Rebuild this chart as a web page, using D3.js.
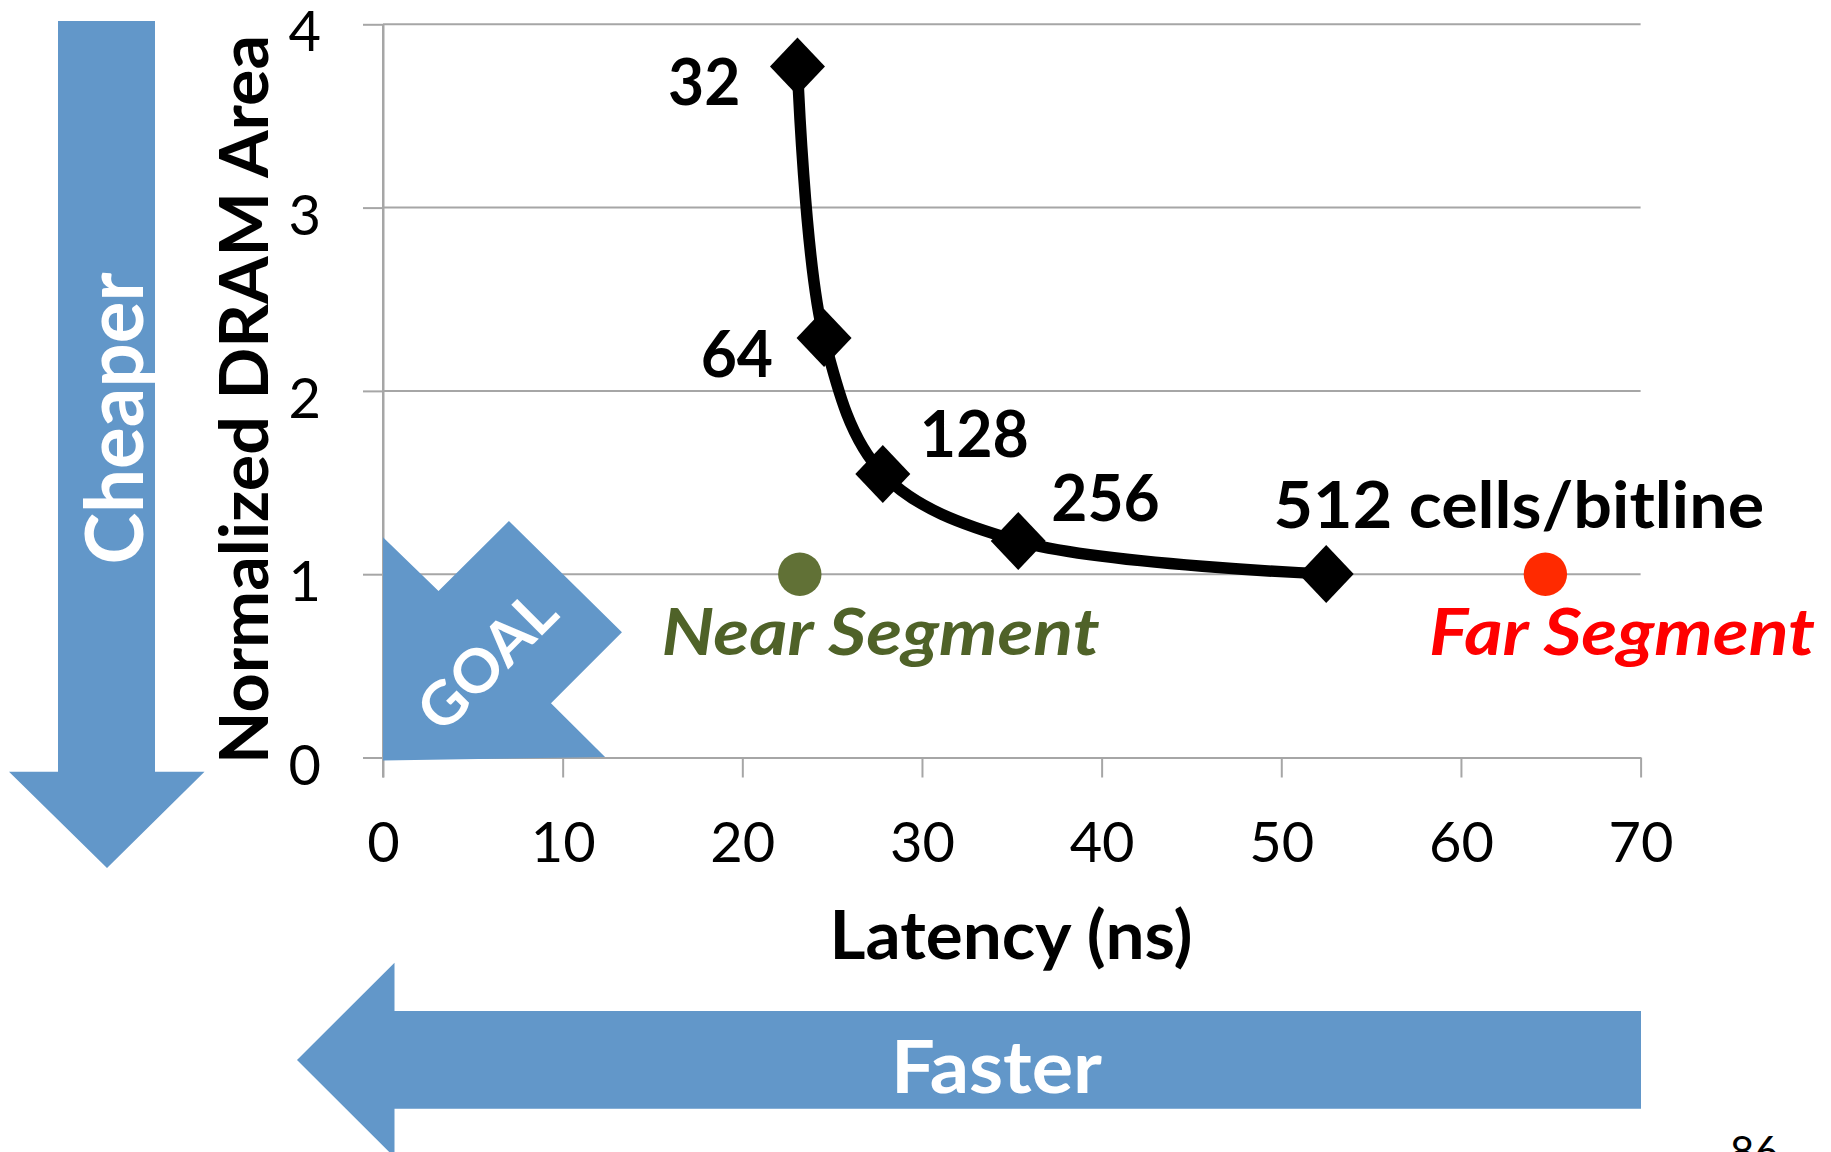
<!DOCTYPE html>
<html>
<head>
<meta charset="utf-8">
<script src="https://cdn.jsdelivr.net/npm/d3@7"></script>
<style>
  html, body { margin: 0; padding: 0; background: #ffffff; }
  svg { display: block; }
  text { font-family: Lato, "Open Sans", "DejaVu Sans", sans-serif; }
</style>
</head>
<body>
<svg id="chart" width="1831" height="1152"></svg>
<script>
// ---- data ----
const cellsPerBitline = ["32", "64", "128", "256", "512 cells/bitline"];
const latencyNs = [23.07, 24.55, 27.82, 35.36, 52.5];
const normalizedArea = [3.77, 2.289, 1.547, 1.181, 1.001];

const segmentNames = ["Near Segment", "Far Segment"];
const segmentLatency = [23.2, 64.7];
const segmentArea = [1.0, 1.0];

const xTickValues = [0, 10, 20, 30, 40, 50, 60, 70];
const yTickValues = [0, 1, 2, 3, 4];

const xTitle = "Latency (ns)";
const yTitle = "Normalized DRAM Area";

// ---- layout / style ----
const W = 1831, H = 1152;
const BLUE = "#6297c9";
const GRID = "#a6a6a6";

const svg = d3.select("#chart");
svg.append("rect").attr("width", W).attr("height", H).attr("fill", "#fff");

const x = d3.scaleLinear().domain([0, 70]).range([383, 1640.6]);
const y = d3.scaleLinear().domain([0, 4]).range([757.5, 24.3]);

// ---- "Cheaper" arrow (left, pointing down) ----
const cheaper = [[58, 21], [155, 21], [155, 771.7], [204.5, 771.7], [107, 868], [9, 771.7], [58, 771.7]];
svg.append("path").attr("d", "M" + cheaper.join("L") + "Z").attr("fill", BLUE);
svg.append("text")
  .attr("transform", "translate(143,418.5) rotate(-90)")
  .attr("text-anchor", "middle")
  .attr("font-weight", 700).attr("font-size", 80)
  .attr("textLength", 292).attr("lengthAdjust", "spacingAndGlyphs")
  .attr("fill", "#fff").text("Cheaper");

// ---- "Faster" arrow (bottom, pointing left) ----
const faster = [[1641, 1011], [1641, 1108.7], [394.5, 1108.7], [394.5, 1157.3], [297, 1060], [394.5, 962.7], [394.5, 1011]];
svg.append("path").attr("d", "M" + faster.join("L") + "Z").attr("fill", BLUE);
svg.append("text")
  .attr("x", 996.5).attr("y", 1093.3)
  .attr("text-anchor", "middle")
  .attr("font-weight", 700).attr("font-size", 73)
  .attr("textLength", 211).attr("lengthAdjust", "spacingAndGlyphs")
  .attr("fill", "#fff").text("Faster");

// ---- gridlines ----
svg.append("g").selectAll("line").data(yTickValues.filter(d => d > 0)).join("line")
  .attr("x1", x(0)).attr("x2", x(70))
  .attr("y1", d => y(d)).attr("y2", d => y(d))
  .attr("stroke", GRID).attr("stroke-width", 2);

// ---- axes ----
const yAxis = svg.append("g").attr("transform", `translate(${x(0)},0)`)
  .call(d3.axisLeft(y).tickValues(yTickValues).tickFormat(d3.format("d"))
    .tickSizeInner(20).tickSizeOuter(0).tickPadding(42));
const xAxis = svg.append("g").attr("transform", `translate(0,${y(0)})`)
  .call(d3.axisBottom(x).tickValues(xTickValues).tickFormat(d3.format("d"))
    .tickSizeInner(20).tickSizeOuter(0));

[yAxis, xAxis].forEach(g => {
  g.attr("font-family", null).attr("font-size", null);
  g.selectAll("path, line").attr("stroke", GRID).attr("stroke-width", 2);
  g.selectAll("text").attr("fill", "#000").attr("font-size", 56)
    .style("font-family", 'Lato, "Open Sans", sans-serif');
});
yAxis.selectAll("text").attr("dy", null).attr("y", 26.5);
xAxis.selectAll("text").attr("dy", null).attr("y", 104.5);
// vertical axis line extends down through the x tick at 0
svg.append("line").attr("x1", x(0)).attr("x2", x(0)).attr("y1", y(4)).attr("y2", y(0) + 20)
  .attr("stroke", GRID).attr("stroke-width", 2);

// ---- axis titles ----
svg.append("text")
  .attr("transform", "translate(267.6,399.5) rotate(-90)")
  .attr("text-anchor", "middle")
  .attr("font-weight", 700).attr("font-size", 67)
  .attr("textLength", 729).attr("lengthAdjust", "spacingAndGlyphs")
  .attr("fill", "#000").text(yTitle);
svg.append("text")
  .attr("x", 1011).attr("y", 959)
  .attr("text-anchor", "middle")
  .attr("font-weight", 700).attr("font-size", 66)
  .attr("textLength", 363).attr("lengthAdjust", "spacingAndGlyphs")
  .attr("fill", "#000").text(xTitle);

// ---- GOAL arrow (annotation in data coordinates) ----
const goalShape = [[0, 1.201], [3.09, 0.909], [7.01, 1.29], [13.30, 0.683], [9.35, 0.296], [12.36, 0.003], [0, -0.017]];
svg.append("path")
  .attr("d", "M" + goalShape.map(p => [x(p[0]), y(p[1])]).join("L") + "Z")
  .attr("fill", BLUE);
svg.append("text")
  .attr("transform", "translate(487,661) rotate(-45)")
  .attr("text-anchor", "middle").attr("y", 21)
  .attr("font-weight", 700).attr("font-size", 60)
  .attr("textLength", 168).attr("lengthAdjust", "spacingAndGlyphs")
  .attr("fill", "#fff").text("GOAL");

// ---- curve ----
const pts = latencyNs.map((v, i) => ({ lat: v, area: normalizedArea[i], label: cellsPerBitline[i] }));
const line = d3.line().x(d => x(d.lat)).y(d => y(d.area)).curve(d3.curveCatmullRom.alpha(0.5));
svg.append("path").datum(pts).attr("d", line)
  .attr("fill", "none").attr("stroke", "#000").attr("stroke-width", 11.5)
  .attr("stroke-linejoin", "round");

svg.append("g").selectAll("path").data(pts).join("path")
  .attr("d", d => {
    const cx = x(d.lat), cy = y(d.area);
    return `M${cx},${cy - 29}L${cx + 27.5},${cy}L${cx},${cy + 29}L${cx - 27.5},${cy}Z`;
  })
  .attr("fill", "#000");

// label placement relative to each point: [dx, dy, anchor, width]
const labelPlacement = [
  [-57, 39, "end", 72.4],
  [-51, 38.7, "end", 72.4],
  [37, -17.3, "start", 109],
  [33, -20.3, "start", 108.5],
  [-52.7, -45.7, "start", 490.6]
];
svg.append("g").selectAll("text").data(pts).join("text")
  .attr("x", (d, i) => x(d.lat) + labelPlacement[i][0])
  .attr("y", (d, i) => y(d.area) + labelPlacement[i][1])
  .attr("text-anchor", (d, i) => labelPlacement[i][2])
  .attr("textLength", (d, i) => labelPlacement[i][3])
  .attr("lengthAdjust", "spacingAndGlyphs")
  .attr("font-weight", 700).attr("font-size", 65)
  .attr("fill", "#000")
  .text(d => d.label);

// ---- segments ----
const segColors = ["#617136", "#ff2a00"];
const segTextColors = ["#4f6228", "#ff0000"];
const segText = [[-138.2, 80.7, 438], [-116.3, 80.7, 386]];
segmentNames.forEach((name, i) => {
  const cx = x(segmentLatency[i]), cy = y(segmentArea[i]);
  svg.append("circle").attr("cx", cx).attr("cy", cy).attr("r", 21.7).attr("fill", segColors[i]);
  svg.append("text")
    .attr("x", cx + segText[i][0]).attr("y", cy + segText[i][1])
    .attr("font-weight", 700).attr("font-style", "italic").attr("font-size", 65)
    .attr("textLength", segText[i][2]).attr("lengthAdjust", "spacingAndGlyphs")
    .attr("fill", segTextColors[i]).text(name);
});

// ---- slide number ----
svg.append("text").attr("x", 1730).attr("y", 1167)
  .attr("font-size", 42).attr("fill", "#000").text("86");
</script>
</body>
</html>
